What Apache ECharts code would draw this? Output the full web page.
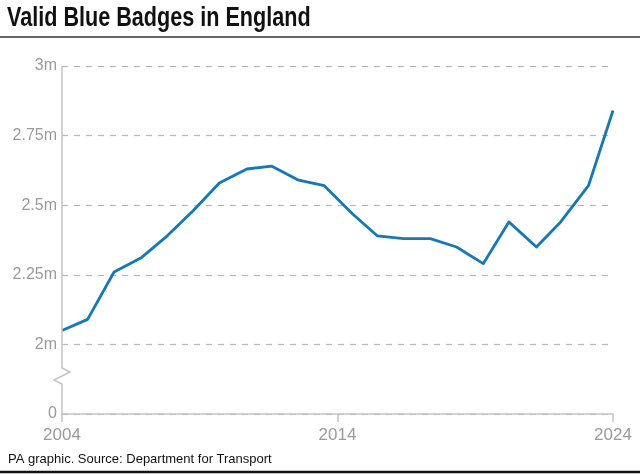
<!DOCTYPE html>
<html>
<head>
<meta charset="utf-8">
<script src="https://cdn.jsdelivr.net/npm/echarts@6/dist/echarts.min.js"></script>
<style>
  html, body { margin: 0; padding: 0; background: #fff; }
  #chart { width: 640px; height: 475px; }
</style>
</head>
<body>
<div id="chart"></div>
<script>
// Data (decimal year positions, millions of badges)
const years = [2004.0, 2004.93, 2005.89, 2006.86, 2007.82, 2008.76, 2009.71, 2010.71, 2011.62, 2012.59,
               2013.52, 2014.53, 2015.44, 2016.40, 2017.37, 2018.32, 2019.29, 2020.22, 2021.22, 2022.10,
               2023.11, 2024.0];
const badges = [2.05, 2.09, 2.26, 2.31, 2.39, 2.48, 2.58, 2.63, 2.64, 2.59,
                2.57, 2.47, 2.39, 2.38, 2.38, 2.35, 2.29, 2.44, 2.35, 2.44,
                2.57, 2.84];
const xTickLabels = ['2004', '2014', '2024'];
const yTickValues = [1.75, 2, 2.25, 2.5, 2.75, 3];
const yTickLabels = ['0', '2m', '2.25m', '2.5m', '2.75m', '3m'];

(function () {
const chart = echarts.init(document.getElementById('chart'), null, { renderer: 'canvas' });
const grey = '#9a9a9a';
const axisGrey = '#c4c4c4';

const option = {
  animation: false,
  backgroundColor: '#fff',
  grid: { left: 62, right: 27, top: 66, bottom: 61, containLabel: false },
  xAxis: {
    type: 'value', min: 2004, max: 2024, interval: 10,
    axisLine: { show: true, lineStyle: { color: axisGrey, width: 1.5 } },
    axisTick: { show: true, length: 8, lineStyle: { color: axisGrey, width: 1.5 } },
    splitLine: { show: false },
    axisLabel: {
      margin: 13, color: grey, fontSize: 17, fontFamily: 'Liberation Sans, Arial, sans-serif',
      formatter: function (v) {
        const s = String(Math.round(v));
        return xTickLabels.indexOf(s) >= 0 ? s : '';
      }
    }
  },
  yAxis: {
    type: 'value', min: 1.75, max: 3, interval: 0.25,
    axisLine: { show: false },
    axisTick: { show: false },
    splitLine: { show: true, lineStyle: { color: '#b8b8b8', type: [6, 6], width: 1.2 } },
    axisLabel: {
      margin: 5, color: grey, fontSize: 16, fontFamily: 'Liberation Sans, Arial, sans-serif',
      formatter: function (v) {
        const i = yTickValues.findIndex(t => Math.abs(t - v) < 1e-6);
        return i >= 0 ? yTickLabels[i] : '';
      }
    }
  },
  series: [{
    type: 'line',
    data: years.map((y, i) => [y, badges[i]]),
    showSymbol: false,
    clip: false,
    lineStyle: { color: '#1678b6', width: 2.8, join: 'round' },
    z: 5
  }]
};
chart.setOption(option);

// Decorations: title, rules, footer and broken y-axis line drawn relative to the axes
const pTop = chart.convertToPixel({ gridIndex: 0 }, [2004, 3]);
const pBot = chart.convertToPixel({ gridIndex: 0 }, [2004, 1.75]);
const x0 = pTop[0];
const yb = pBot[1];
chart.setOption({
  graphic: [
    { type: 'text', x: 7, y: 19, scaleX: 0.8, scaleY: 1,
      style: { text: 'Valid Blue Badges in England', font: 'bold 27px "Liberation Sans", Arial, sans-serif',
               fill: '#111', verticalAlign: 'middle', align: 'left' } },
    { type: 'line', shape: { x1: 0, y1: 37, x2: 640, y2: 37 }, style: { stroke: '#333', lineWidth: 1.5 } },
    { type: 'line', shape: { x1: 0, y1: 472, x2: 640, y2: 472 }, style: { stroke: '#111', lineWidth: 2.5 } },
    { type: 'text', left: 8, top: 453, style: { text: 'PA graphic. Source: Department for Transport', fontSize: 13, fontFamily: 'Liberation Sans, Arial, sans-serif', fill: '#111' } },
    { type: 'polyline', z: 10, shape: { points: [
        [x0, pTop[1]], [x0, yb - 46], [x0 + 8, yb - 42], [x0 - 8, yb - 34], [x0, yb - 30], [x0, yb]
      ] }, style: { stroke: axisGrey, lineWidth: 1.5, fill: null } }
  ]
});
})();
</script>
</body>
</html>
